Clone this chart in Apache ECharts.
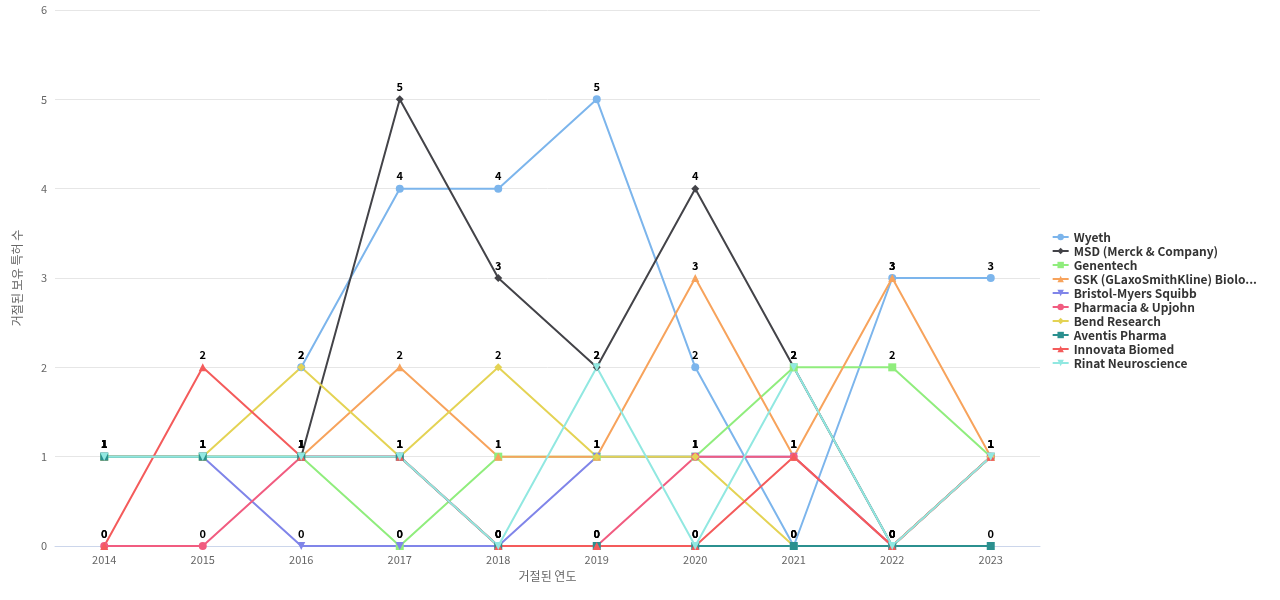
<!DOCTYPE html><html><head><meta charset="utf-8"><script src="https://cdn.jsdelivr.net/npm/echarts@6/dist/echarts.min.js"></script></head><body style="margin:0"><div id="c" style="width:1280px;height:600px"></div><script>
const years=['2014','2015','2016','2017','2018','2019','2020','2021','2022','2023'];
const names=['Wyeth','MSD (Merck & Company)','Genentech','GSK (GLaxoSmithKline) Biolo...','Bristol-Myers Squibb','Pharmacia & Upjohn','Bend Research','Aventis Pharma','Innovata Biomed','Rinat Neuroscience'];
const wyeth=[null,null,2,4,4,5,2,0,3,3];
const msd=[null,null,1,5,3,2,4,2,0,1];
const genentech=[1,1,1,0,1,1,1,2,2,1];
const gsk=[1,1,1,2,1,1,3,1,3,1];
const bristol=[1,1,0,0,0,1,1,1,0,1];
const pharmacia=[0,0,1,1,0,0,1,1,0,1];
const bend=[1,1,2,1,2,1,1,0,0,1];
const aventis=[1,1,1,1,0,0,0,0,0,0];
const innovata=[0,2,1,1,0,0,0,1,0,1];
const rinat=[1,1,1,1,0,2,0,2,0,1];
const values=[wyeth,msd,genentech,gsk,bristol,pharmacia,bend,aventis,innovata,rinat];
const colors=['#7cb5ec','#434348','#90ed7d','#f7a35c','#8085e9','#f15c80','#e4d354','#2b908f','#f45b5b','#91e8e1'];
const symbols=['circle','diamond','rect','triangle','path://M0,0L10,0L5,10Z','circle','diamond','rect','triangle','path://M0,0L10,0L5,10Z'];
const ch=echarts.init(document.getElementById('c'));
ch.setOption({
 color:colors,
 textStyle:{fontFamily:'Noto Sans CJK KR, sans-serif'},
 grid:{left:55,right:240,top:10,bottom:54},
 legend:{orient:'vertical',right:18,top:'middle',itemWidth:16,itemHeight:8,itemGap:2,
   textStyle:{fontWeight:'bold',fontSize:12,color:'#333'},data:names},
 xAxis:{type:'category',data:years,boundaryGap:true,name:'거절된 연도',nameLocation:'middle',nameGap:24,
   nameTextStyle:{color:'#666',fontSize:12},axisTick:{show:false},axisLine:{lineStyle:{color:'#ccd6eb'}},
   axisLabel:{color:'#666',fontSize:11}},
 yAxis:{type:'value',min:0,max:6,interval:1,name:'거절된 보유 특허 수',nameLocation:'middle',nameGap:32,
   nameTextStyle:{color:'#666',fontSize:12},axisLabel:{color:'#666',fontSize:11},splitLine:{lineStyle:{color:'#e6e6e6'}}},
 series:names.map((n,i)=>({name:n,type:'line',data:values[i],symbol:symbols[i],symbolSize:8,
   lineStyle:{width:2},label:{show:true,position:'top',fontWeight:'bold',fontSize:11,color:'#000',distance:3}}))
});
</script></body></html>
